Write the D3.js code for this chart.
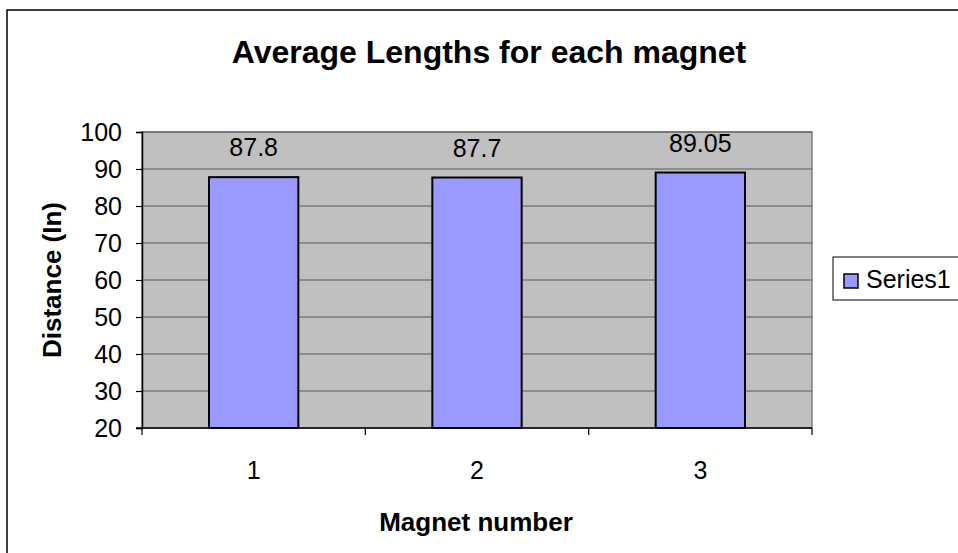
<!DOCTYPE html>
<html>
<head>
<meta charset="utf-8">
<script src="https://cdn.jsdelivr.net/npm/d3@7"></script>
<style>
  body { margin: 0; background: #fff; }
  text { font-family: "Liberation Sans", Arial, sans-serif; fill: #000; }
</style>
</head>
<body>
<div id="chart"></div>
<script>
var magnets = ["1", "2", "3"];
var avgLengths = [87.8, 87.7, 89.05];
var valueLabels = ["87.8", "87.7", "89.05"];
var yTicks = [20, 30, 40, 50, 60, 70, 80, 90, 100];
var seriesName = "Series1";

var W = 958, H = 553;
var svg = d3.select("#chart").append("svg").attr("width", W).attr("height", H);

// outer chart frame (runs off right and bottom)
svg.append("rect").attr("x", 7).attr("y", 10).attr("width", 1000).attr("height", 600)
    .attr("fill", "#fff").attr("stroke", "#000").attr("stroke-width", 1.5);

var plotL = 142, plotR = 812, plotT = 132, plotB = 428;

var x = d3.scaleBand().domain(magnets).range([plotL, plotR]).paddingInner(0.6).paddingOuter(0.3);
var y = d3.scaleLinear().domain([20, 100]).range([plotB, plotT]);

// plot area
svg.append("rect").attr("x", plotL).attr("y", plotT).attr("width", plotR - plotL).attr("height", plotB - plotT)
    .attr("fill", "#c0c0c0").attr("stroke", "#808080").attr("stroke-width", 1.5);

svg.append("g").selectAll("line").data(yTicks.slice(1)).join("line")
    .attr("x1", plotL).attr("x2", plotR)
    .attr("y1", function (d) { return y(d); }).attr("y2", function (d) { return y(d); })
    .attr("stroke", "#595959").attr("stroke-width", 1.2);

// bars
svg.append("g").selectAll("rect").data(avgLengths).join("rect")
    .attr("x", function (d, i) { return x(magnets[i]); })
    .attr("width", x.bandwidth())
    .attr("y", function (d) { return y(d); })
    .attr("height", function (d) { return plotB - y(d); })
    .attr("fill", "#9999ff").attr("stroke", "#000").attr("stroke-width", 2);

// value labels
svg.append("g").selectAll("text").data(valueLabels).join("text")
    .attr("x", function (d, i) { return x(magnets[i]) + x.bandwidth() / 2; })
    .attr("y", function (d, i) { return y(avgLengths[i]) - 21; })
    .attr("text-anchor", "middle").style("font-size", "25px")
    .text(function (d) { return d; });

// y axis
var yAxis = svg.append("g").attr("transform", "translate(" + plotL + ",0)")
    .call(d3.axisLeft(y).tickValues(yTicks).tickSize(6).tickPadding(14));
yAxis.selectAll("text").style("font-size", "25px").style("font-family", "Liberation Sans, Arial, sans-serif").attr("fill", "#000");
yAxis.selectAll("line").attr("stroke", "#000").attr("stroke-width", 1.2);
yAxis.select(".domain").attr("stroke", "#000").attr("stroke-width", 1.5);

// x axis: ticks at band edges, labels at band centres
var edges = [plotL].concat(magnets.map(function (m, i) {
    return i < magnets.length - 1 ? (x(m) + x.bandwidth() + x(magnets[i + 1])) / 2 : plotR;
}));
var xAxis = svg.append("g");
xAxis.append("line").attr("x1", plotL - 6).attr("x2", plotR).attr("y1", plotB).attr("y2", plotB)
    .attr("stroke", "#000").attr("stroke-width", 1.5);
xAxis.selectAll("line.tick").data(edges).join("line").attr("class", "tick")
    .attr("x1", function (d) { return d; }).attr("x2", function (d) { return d; })
    .attr("y1", plotB).attr("y2", plotB + 7)
    .attr("stroke", "#000").attr("stroke-width", 1.2);
xAxis.selectAll("text").data(magnets).join("text")
    .attr("x", function (d) { return x(d) + x.bandwidth() / 2; })
    .attr("y", 479).attr("text-anchor", "middle").style("font-size", "25px")
    .text(function (d) { return d; });

// titles
svg.append("text").attr("x", 489).attr("y", 63).attr("text-anchor", "middle")
    .style("font-size", "32px").style("font-weight", "bold")
    .text("Average Lengths for each magnet");
svg.append("text").attr("x", 476).attr("y", 531).attr("text-anchor", "middle")
    .style("font-size", "26px").style("font-weight", "bold").text("Magnet number");
svg.append("text").attr("transform", "translate(61," + ((plotT + plotB) / 2) + ") rotate(-90)")
    .attr("text-anchor", "middle")
    .style("font-size", "26px").style("font-weight", "bold").text("Distance (In)");

// legend
var legend = svg.append("g");
legend.append("rect").attr("x", 833).attr("y", 257).attr("width", 200).attr("height", 43)
    .attr("fill", "#fff").attr("stroke", "#000").attr("stroke-width", 1);
legend.append("rect").attr("x", 844).attr("y", 274).attr("width", 14).attr("height", 14)
    .attr("fill", "#9999ff").attr("stroke", "#000").attr("stroke-width", 1.5);
legend.append("text").attr("x", 866).attr("y", 288).style("font-size", "25px").text(seriesName);
</script>
</body>
</html>
